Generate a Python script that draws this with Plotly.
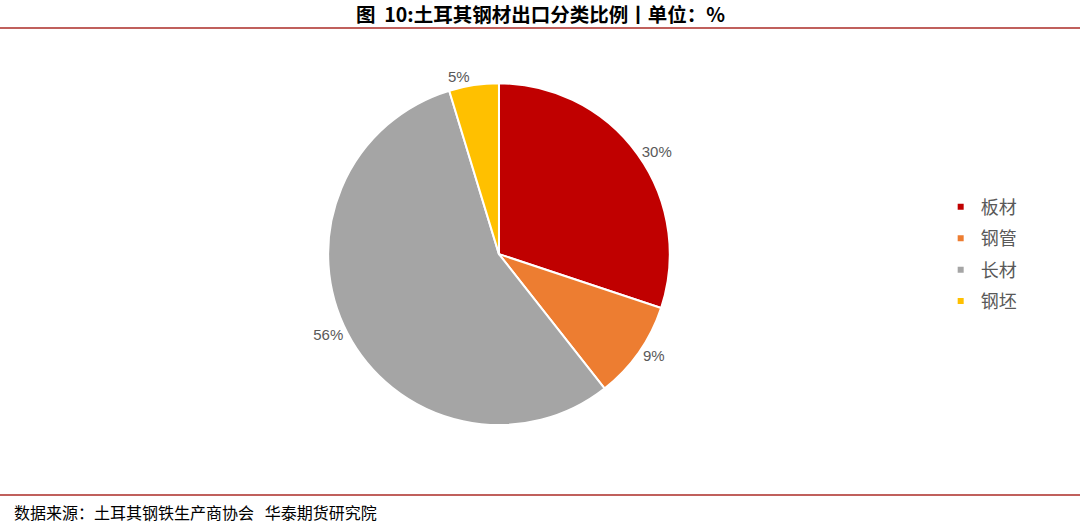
import plotly.graph_objects as go

categories = ["板材", "钢管", "长材", "钢坯"]
values = [30.1, 9.3, 55.9, 4.7]
colors = ["#C00000", "#ED7D31", "#A5A5A5", "#FFC000"]

title_text = "图&nbsp;&nbsp;10:土耳其钢材出口分类比例丨单位：%"
source_text = "数据来源：土耳其钢铁生产商协会&nbsp;&nbsp;&nbsp;华泰期货研究院"

fig = go.Figure()
fig.add_trace(go.Pie(
    labels=categories, values=values,
    marker=dict(colors=colors, line=dict(color="white", width=2)),
    sort=False, direction="clockwise", rotation=0,
    textposition="outside", texttemplate="%{percent:.0%}",
    textfont=dict(size=15, color="#595959", family="Liberation Sans, Arial"),
    showlegend=False, hoverinfo="label+percent",
    domain=dict(x=[0.273, 0.651], y=[0.189, 0.841]),
))
for c, col in zip(categories, colors):
    fig.add_trace(go.Scatter(
        x=[None], y=[None], mode="markers", name=c, legendgroup=c,
        marker=dict(symbol="square", size=6, color=col),
    ))

fig.update_layout(
    width=1080, height=524,
    margin=dict(l=0, r=0, t=0, b=0),
    paper_bgcolor="white", plot_bgcolor="white",
    xaxis=dict(visible=False), yaxis=dict(visible=False),
    legend=dict(x=0.871, y=0.64, xanchor="left", yanchor="top",
                font=dict(size=18, color="#595959", family="Noto Sans CJK SC"),
                tracegroupgap=5, itemwidth=30),
    shapes=[
        dict(type="line", xref="paper", yref="paper", x0=0, x1=1, y0=1 - 28/524, y1=1 - 28/524,
             line=dict(color="#C0605C", width=2)),
        dict(type="line", xref="paper", yref="paper", x0=0, x1=1, y0=1 - 495/524, y1=1 - 495/524,
             line=dict(color="#C0605C", width=2)),
    ],
    annotations=[
        dict(text="<b>" + title_text + "</b>", xref="paper", yref="paper", x=0.5, y=1 - 13/524,
             xanchor="center", yanchor="middle", showarrow=False,
             font=dict(size=19.5, color="#000000", family="Noto Sans CJK SC")),
        dict(text=source_text, xref="paper", yref="paper", x=12/1080, y=1 - 512/524,
             xanchor="left", yanchor="middle", showarrow=False,
             font=dict(size=16, color="#000000", family="Noto Sans CJK SC")),
    ],
)
fig.write_html("out.html", config={"displayModeBar": False},
               post_script="document.body.style.margin='0px';document.body.style.padding='0px';")
